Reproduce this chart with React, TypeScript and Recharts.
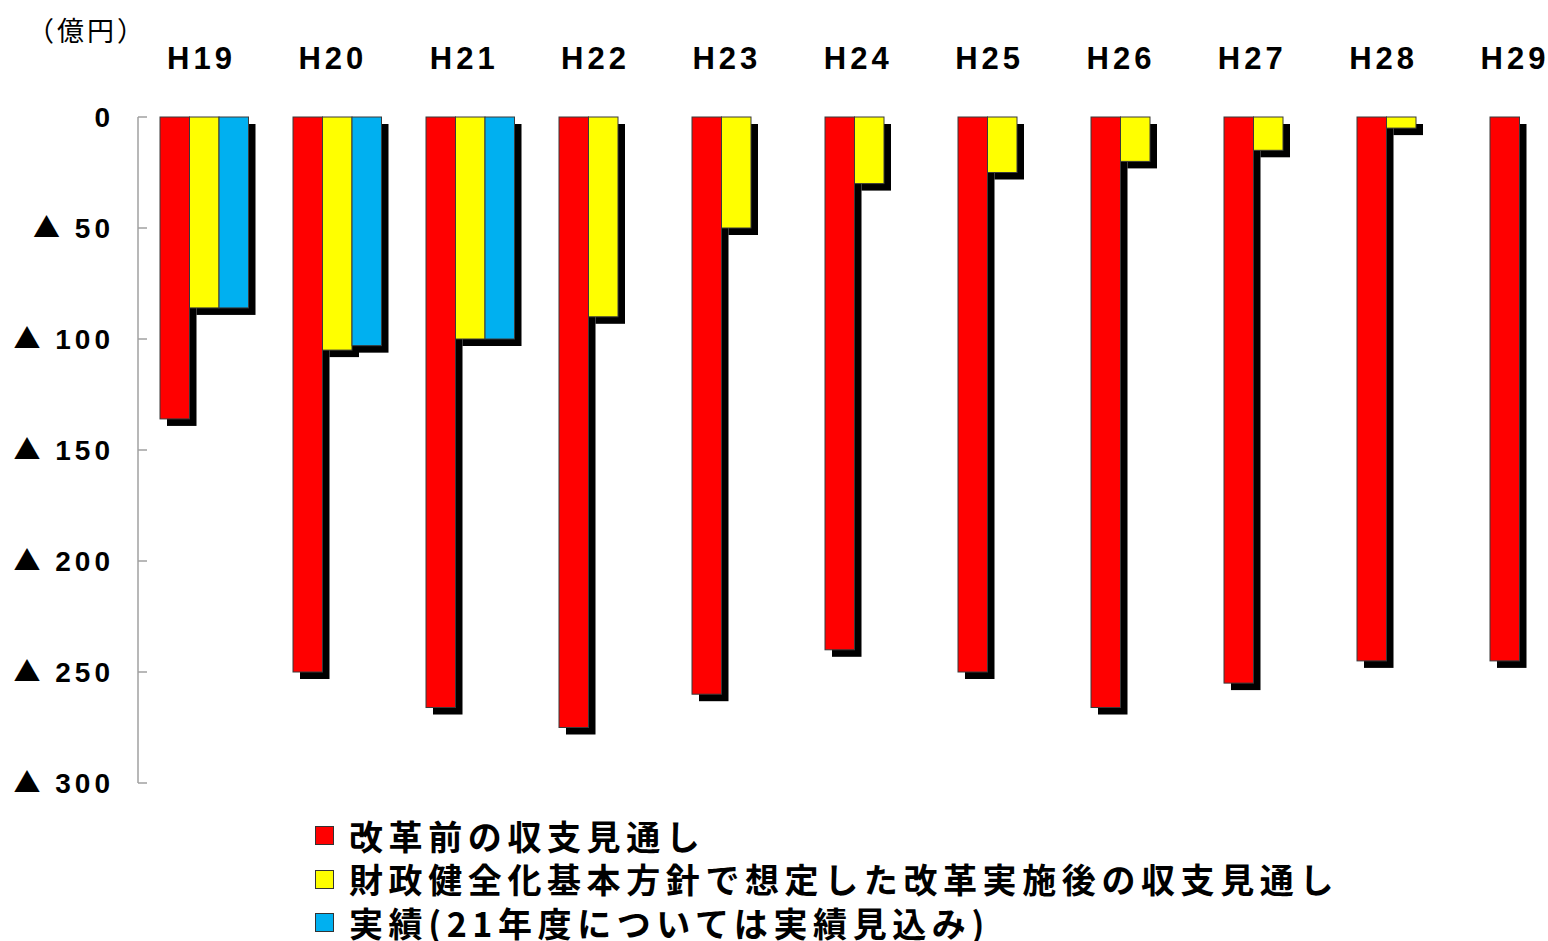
import { BarChart, Bar, XAxis, YAxis, Legend } from "recharts"

// 年度
const years = ["H19", "H20", "H21", "H22", "H23", "H24", "H25", "H26", "H27", "H28", "H29"]

// 改革前の収支見通し（億円）
const beforeReform = [-136, -250, -266, -275, -260, -240, -250, -266, -255, -245, -245]

// 財政健全化基本方針で想定した改革実施後の収支見通し（億円）
const afterReform = [-86, -105, -100, -90, -50, -30, -25, -20, -15, -5, null]

// 実績（21年度は実績見込み）
const actual = [-86, -103, -100, null, null, null, null, null, null, null, null]

const yTicks = [0, -50, -100, -150, -200, -250, -300]

const seriesNames = [
  "改革前の収支見通し",
  "財政健全化基本方針で想定した改革実施後の収支見通し",
  "実績(21年度については実績見込み)",
]

const data = years.map((year, i) => ({
  year,
  before: beforeReform[i],
  after: afterReform[i],
  actual: actual[i],
}))

const LATIN = "'Liberation Sans', 'Noto Sans CJK JP', sans-serif"
const JP = "'Noto Sans CJK JP', sans-serif"
const SHADOW = 7

function ShadowBar(props: any) {
  const { x, y, width, height, fill } = props
  if (!height) return null
  const top = Math.min(y, y + height)
  const h = Math.abs(height)
  return (
    <g>
      <rect x={x + SHADOW} y={top + SHADOW} width={width} height={h} fill="#000" />
      <rect x={x} y={top} width={width} height={h} fill={fill} stroke="#3a3a3a" strokeWidth={1} />
    </g>
  )
}

function YearTick({ x, y, payload }: any) {
  return (
    <text
      x={x + 2}
      y={y}
      textAnchor="middle"
      fontFamily={LATIN}
      fontWeight="bold"
      fontSize={31}
      letterSpacing={4}
      fill="#000"
    >
      {payload.value}
    </text>
  )
}

function ValueTick({ x, y, payload }: any) {
  const v = payload.value as number
  return (
    <g>
      <text
        x={x + 4}
        y={y}
        dy={10}
        textAnchor="end"
        fontFamily={LATIN}
        fontWeight="bold"
        fontSize={28}
        letterSpacing={4}
        fill="#000"
      >
        {v !== 0 && (
          <tspan fontFamily={JP} fontSize={27} letterSpacing={3}>
            ▲
          </tspan>
        )}
        {v === 0 ? "0" : ` ${Math.abs(v)}`}
      </text>
      <line x1={x + 28} x2={x + 37} y1={y} y2={y} stroke="#a0a0a0" strokeWidth={1.5} />
    </g>
  )
}

function LegendBox({ payload }: any) {
  const items = [...(payload ?? [])].sort(
    (a: any, b: any) => seriesNames.indexOf(a.value) - seriesNames.indexOf(b.value),
  )
  return (
    <div style={{ display: "flex", flexDirection: "column" }}>
      {items.map((item: any) => (
        <div key={item.value} style={{ display: "flex", alignItems: "center", height: 43.5 }}>
          <span
            style={{
              display: "inline-block",
              width: 17,
              height: 17,
              background: item.color,
              border: "1px solid #333",
              marginRight: 15,
            }}
          />
          <span
            style={{
              fontFamily: JP,
              fontWeight: "bold",
              fontSize: 34,
              letterSpacing: 5.6,
              whiteSpace: "nowrap",
              color: "#000",
              lineHeight: 1,
            }}
          >
            {item.value}
          </span>
        </div>
      ))}
    </div>
  )
}

export default function App() {
  return (
    <div
      style={{
        position: "absolute",
        left: 0,
        top: 0,
        width: 1548,
        height: 941,
        overflow: "hidden",
        background: "#fff",
      }}
    >
      <div
        style={{
          position: "absolute",
          left: 27,
          top: 16,
          fontFamily: JP,
          fontSize: 27,
          letterSpacing: 3,
          lineHeight: 1,
          color: "#000",
          zIndex: 2,
        }}
      >
        （億円）
      </div>
      <BarChart
        width={1601}
        height={941}
        data={data}
        margin={{ top: 87, right: 0, bottom: 158, left: 0 }}
        barGap={0}
        barSize={29.5}
      >
        <XAxis xAxisId="bars" dataKey="year" hide />
        <XAxis
          xAxisId="years"
          dataKey="year"
          orientation="top"
          scale="point"
          padding={{ left: 61.5, right: 88 }}
          height={30}
          axisLine={false}
          tickLine={false}
          tickSize={0}
          tickMargin={48}
          interval={0}
          tick={<YearTick />}
        />
        <YAxis
          width={138}
          domain={[-300, 0]}
          ticks={yTicks}
          interval={0}
          axisLine={{ stroke: "#a0a0a0", strokeWidth: 1.5 }}
          tickLine={false}
          tickSize={0}
          tickMargin={28}
          tick={<ValueTick />}
        />
        <Legend
          layout="vertical"
          align="center"
          verticalAlign="middle"
          wrapperStyle={{ left: 315, top: 814, width: 1150 }}
          content={<LegendBox />}
        />
        <Bar
          xAxisId="bars"
          dataKey="before"
          name={seriesNames[0]}
          fill="#ff0000"
          legendType="square"
          shape={<ShadowBar />}
          isAnimationActive={false}
        />
        <Bar
          xAxisId="bars"
          dataKey="after"
          name={seriesNames[1]}
          fill="#ffff00"
          legendType="square"
          shape={<ShadowBar />}
          isAnimationActive={false}
        />
        <Bar
          xAxisId="bars"
          dataKey="actual"
          name={seriesNames[2]}
          fill="#00b0f0"
          legendType="square"
          shape={<ShadowBar />}
          isAnimationActive={false}
        />
      </BarChart>
    </div>
  )
}
